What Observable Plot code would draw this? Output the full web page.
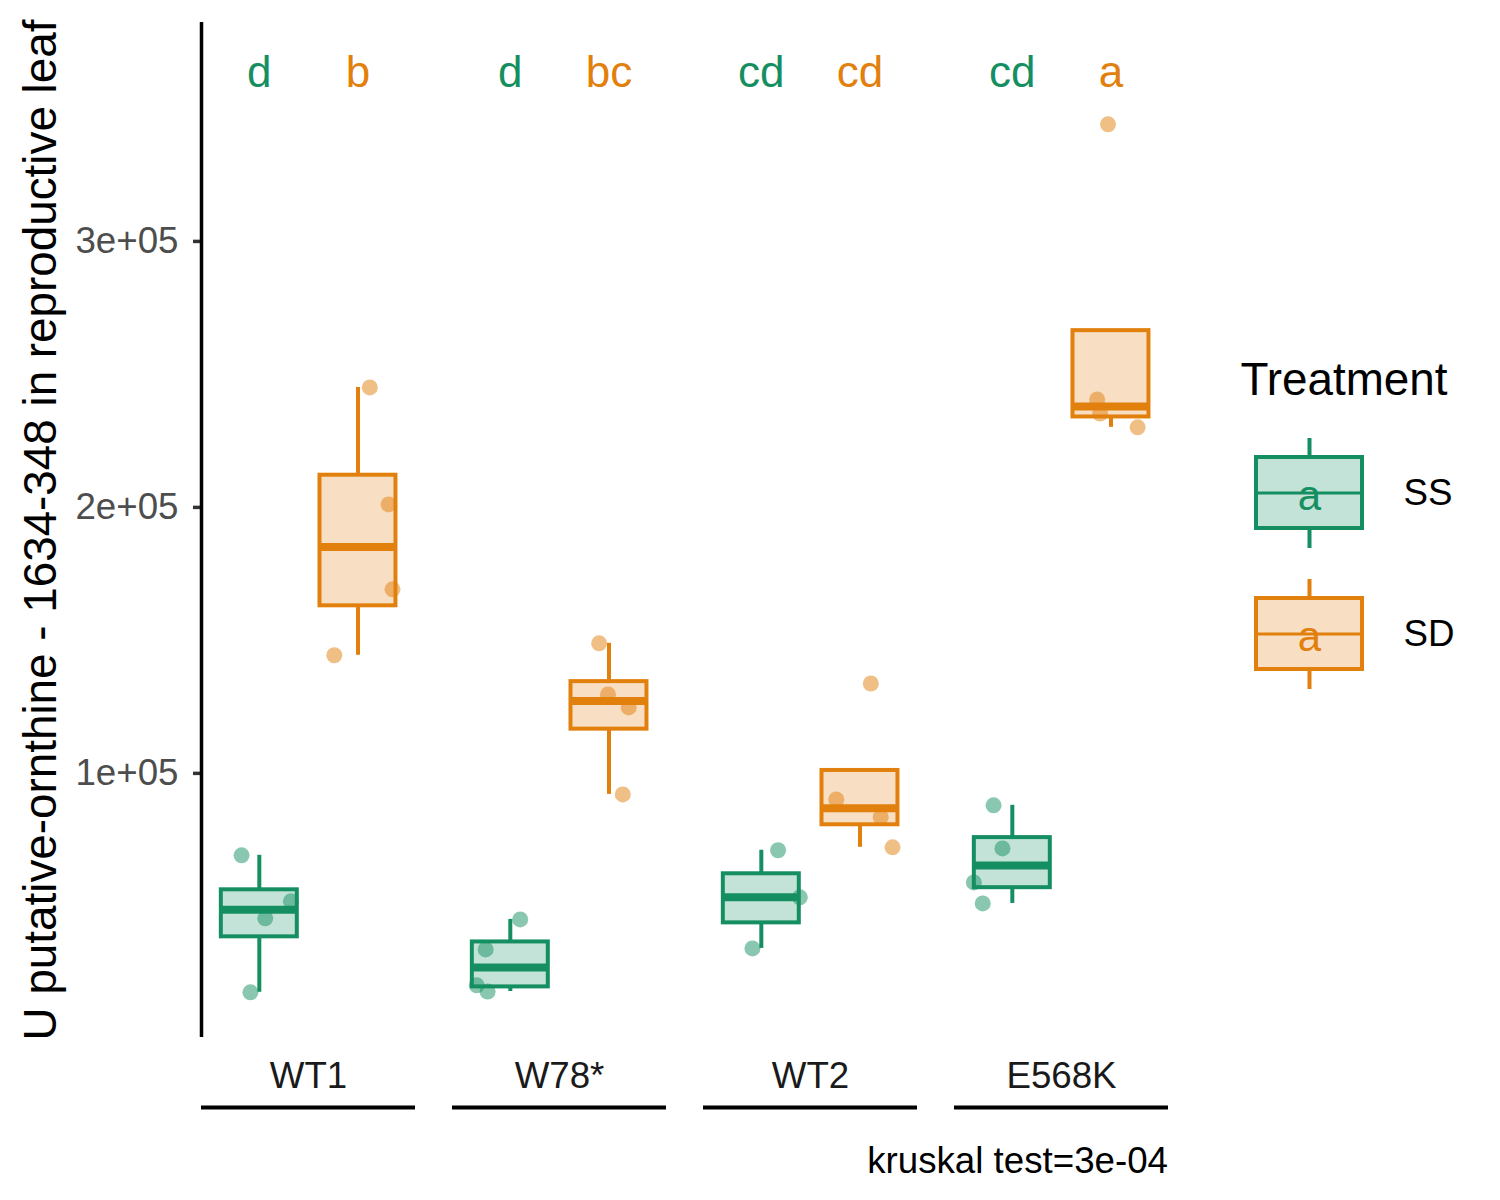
<!DOCTYPE html>
<html><head><meta charset="utf-8">
<script src="https://cdn.jsdelivr.net/npm/d3@7"></script>
<script src="https://cdn.jsdelivr.net/npm/@observablehq/plot@0.6"></script>
<style>
body{margin:0;background:#fff;font-family:"Liberation Sans",Arial,sans-serif;}
#wrap{position:relative;width:1500px;height:1200px;background:#fff;}
#main{position:absolute;left:0;top:0;}
#legend{position:absolute;left:1230px;top:330px;}
#caption{position:absolute;left:0;width:1168px;text-align:right;top:1143px;font-size:36.7px;line-height:1;color:#000;}
</style></head><body>
<div id="wrap"><div id="main"></div><div id="legend"></div><div id="caption"></div></div>
<script>
// ---- data ----
const genotypes = ["WT1", "W78*", "WT2", "E568K"];
const treatments = ["SS", "SD"];
const colors = ["#158f62", "#e2800e"];

const ssValues = [
  [69200, 51900, 45500, 17700],
  [45100, 33800, 20300, 18000],
  [71100, 53400, 34200],
  [88000, 71800, 59000, 51100]
];
const sdValues = [
  [245100, 201100, 169200, 144400],
  [148900, 129700, 124800, 92100],
  [133800, 90200, 83500, 72200],
  [344000, 240600, 235300, 230100]
];
// horizontal jitter of each point (in treatment-slot units)
const ssJitter = [
  [-0.18, 0.32, 0.06, -0.09],
  [0.10, -0.25, -0.34, -0.23],
  [0.17, 0.39, -0.09],
  [-0.19, -0.10, -0.39, -0.30]
];
const sdJitter = [
  [0.12, 0.31, 0.35, -0.24],
  [-0.10, -0.01, 0.20, 0.14],
  [0.11, -0.24, 0.21, 0.33],
  [-0.03, -0.14, -0.11, 0.27]
];
const ssLetters = ["d", "d", "cd", "cd"];
const sdLetters = ["b", "bc", "cd", "a"];
const letterY = 363500;

const yTicks = [100000, 200000, 300000];
const yTickLabels = ["1e+05", "2e+05", "3e+05"];
const yDomain = [700, 382300];
const xDomain = [0.414, 2.583];
const yTitle = "U putative-ornthine - 1634-348 in reproductive leaf";
const captionText = "kruskal test=3e-04";
const legendTitle = "Treatment";
const legendKeyLetter = "a";

// ---- build tables ----
const points = [];
const letters = [];
genotypes.forEach((g, gi) => {
  [ssValues, sdValues].forEach((vals, ti) => {
    const jit = ti === 0 ? ssJitter : sdJitter;
    vals[gi].forEach((v, k) => points.push({genotype: g, treatment: treatments[ti], pos: ti + 1, value: v, jitter: jit[gi][k]}));
    letters.push({genotype: g, treatment: treatments[ti], pos: ti + 1, letter: (ti === 0 ? ssLetters : sdLetters)[gi], y: letterY});
  });
});

const boxes = d3.flatGroup(points, d => d.genotype, d => d.treatment).map(([g, t, arr]) => {
  const v = arr.map(d => d.value).sort(d3.ascending);
  const q1 = d3.quantile(v, 0.25), med = d3.quantile(v, 0.5), q3 = d3.quantile(v, 0.75);
  const iqr = q3 - q1;
  const inside = v.filter(x => x >= q1 - 1.5 * iqr && x <= q3 + 1.5 * iqr);
  return {genotype: g, treatment: t, pos: arr[0].pos, q1, med, q3,
          lo: Math.min(d3.min(inside), q1), hi: Math.max(d3.max(inside), q3)};
});

const halfWidth = 0.385;
const font = "Liberation Sans, Arial, Helvetica, sans-serif";
const colorScale = {domain: treatments, range: colors};

const main = Plot.plot({
  width: 1500, height: 1130,
  marginLeft: 200, marginRight: 330, marginTop: 22, marginBottom: 93,
  style: {fontFamily: font, background: "white", overflow: "visible"},
  fx: {domain: genotypes, paddingInner: 0.147, paddingOuter: 0},
  x: {domain: xDomain, axis: null},
  y: {domain: yDomain},
  color: colorScale,
  marks: [
    Plot.axisY({ticks: yTicks, tickFormat: d => yTickLabels[yTicks.indexOf(d)], tickSize: 8, tickPadding: 15,
      fontSize: 36.7, fill: "#4d4d4d", stroke: "#333333", strokeWidth: 3.5, label: null}),
    Plot.axisY({ticks: [], tickSize: 0, label: yTitle, labelAnchor: "center", labelOffset: 178, labelArrow: "none",
      fontSize: 45.8, fill: "black"}),
    Plot.axisFx({anchor: "bottom", tickSize: 0, tickPadding: 24, fontSize: 36.7, fill: "#1a1a1a", label: null}),
    Plot.ruleX([genotypes[0]], {fx: d => d, x: xDomain[0], stroke: "black", strokeWidth: 3.5}),
    Plot.ruleY(genotypes, {fx: d => d, y: yDomain[0], dy: 70, stroke: "black", strokeWidth: 4}),
    // whiskers
    Plot.ruleX(boxes, {fx: "genotype", x: "pos", y1: "lo", y2: "q1", stroke: "treatment", strokeWidth: 4}),
    Plot.ruleX(boxes, {fx: "genotype", x: "pos", y1: "q3", y2: "hi", stroke: "treatment", strokeWidth: 4}),
    // boxes
    Plot.rectY(boxes, {fx: "genotype", x1: d => d.pos - halfWidth, x2: d => d.pos + halfWidth, y1: "q1", y2: "q3",
      fill: "treatment", fillOpacity: 0.25, stroke: "treatment", strokeWidth: 4}),
    // medians
    Plot.ruleY(boxes, {fx: "genotype", x1: d => d.pos - halfWidth, x2: d => d.pos + halfWidth, y: "med",
      stroke: "treatment", strokeWidth: 8}),
    // jittered points
    Plot.dot(points, {fx: "genotype", x: d => d.pos + d.jitter, y: "value", r: 8, fill: "treatment", fillOpacity: 0.5, stroke: null}),
    // significance letters
    Plot.text(letters, {fx: "genotype", x: "pos", y: "y", text: "letter", fill: "treatment", fontSize: 44, lineAnchor: "middle"})
  ]
});
document.getElementById("main").appendChild(main);

const legend = Plot.plot({
  width: 260, height: 380, margin: 0,
  style: {fontFamily: font, background: "transparent", overflow: "visible"},
  x: {domain: ["key"], range: [26, 132], padding: 0, axis: null},
  y: {domain: treatments, range: [107, 360], paddingInner: 0.218, paddingOuter: 0, axis: null},
  color: colorScale,
  marks: [
    Plot.text([legendTitle], {frameAnchor: "top-left", dx: 10, dy: 32, lineAnchor: "top", textAnchor: "start", fontSize: 45.8, fill: "black"}),
    Plot.tickX(treatments, {x: () => "key", y: d => d, stroke: d => d, strokeWidth: 4, insetBottom: 92}),
    Plot.tickX(treatments, {x: () => "key", y: d => d, stroke: d => d, strokeWidth: 4, insetTop: 91}),
    Plot.cell(treatments, {x: () => "key", y: d => d, fill: d => d, fillOpacity: 0.25, stroke: d => d, strokeWidth: 4, insetTop: 19, insetBottom: 20}),
    Plot.cell(treatments, {x: () => "key", y: d => d, fill: d => d, insetTop: 53.5, insetBottom: 53.5}),
    Plot.text(treatments, {x: () => "key", y: d => d, text: () => legendKeyLetter, fill: d => d, fontSize: 42, dy: 3}),
    Plot.text(treatments, {x: () => "key", y: d => d, text: d => d, textAnchor: "start", dx: 94, fontSize: 36.7, fill: "black"})
  ]
});
document.getElementById("legend").appendChild(legend);
document.getElementById("caption").textContent = captionText;
</script>
</body></html>
